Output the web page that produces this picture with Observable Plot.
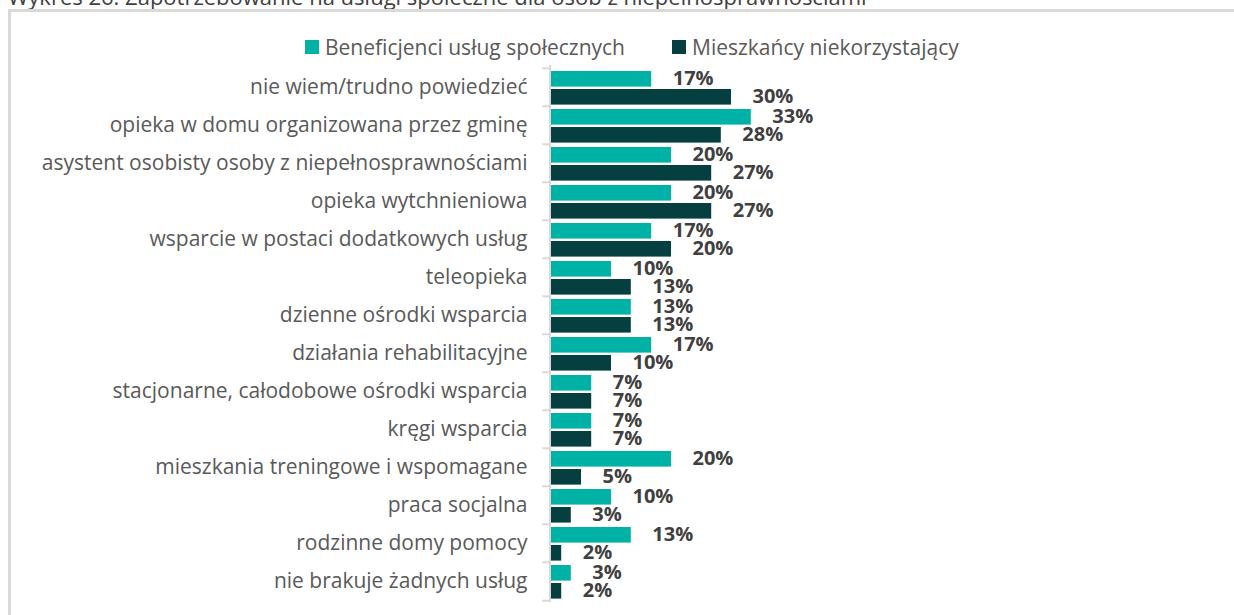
<!DOCTYPE html>
<html><head><meta charset="utf-8">
<script src="https://cdn.jsdelivr.net/npm/d3@7"></script>
<script src="https://cdn.jsdelivr.net/npm/@observablehq/plot@0.6"></script>
<style>
body{margin:0;width:1234px;height:615px;overflow:hidden;background:#fff;font-family:"Open Sans",sans-serif;position:relative}
#title{position:absolute;left:8px;top:-15px;font-size:22px;line-height:22px;color:#404040;white-space:nowrap}
#frame{position:absolute;left:8px;top:9px;width:1400px;height:800px;border-left:3px solid #d9d9d9;border-top:3px solid #d9d9d9}
#legend{position:absolute;top:34px;left:305px;height:26px;font-size:21px;color:#595959;white-space:nowrap}
.item{position:absolute;top:0;display:flex;align-items:center;height:26px}
.sw{width:14px;height:14px;margin-right:6px;display:inline-block}
#chart{position:absolute;left:11px;top:60px}
</style></head>
<body>
<div id="title">Wykres 26. Zapotrzebowanie na usługi społeczne dla osób z niepełnosprawnościami</div>
<div id="frame"></div>
<div id="legend"></div>
<div id="chart"></div>
<script>
const categories = [
  "nie wiem/trudno powiedzieć",
  "opieka w domu organizowana przez gminę",
  "asystent osobisty osoby z niepełnosprawnościami",
  "opieka wytchnieniowa",
  "wsparcie w postaci dodatkowych usług",
  "teleopieka",
  "dzienne ośrodki wsparcia",
  "działania rehabilitacyjne",
  "stacjonarne, całodobowe ośrodki wsparcia",
  "kręgi wsparcia",
  "mieszkania treningowe i wspomagane",
  "praca socjalna",
  "rodzinne domy pomocy",
  "nie brakuje żadnych usług"
];
const seriesNames = ["Beneficjenci usług społecznych", "Mieszkańcy niekorzystający"];
const beneficiaries = [16.7, 33.3, 20, 20, 16.7, 10, 13.3, 16.7, 6.7, 6.7, 20, 10, 13.3, 3.3];
const nonUsers = [30, 28.3, 26.7, 26.7, 20, 13.3, 13.3, 10, 6.7, 6.7, 5, 3.3, 1.7, 1.7];
const colors = ["#00b2a5", "#053f3f"];

const benRows = categories.map((c, i) => ({category: c, series: seriesNames[0], value: beneficiaries[i]}));
const nonRows = categories.map((c, i) => ({category: c, series: seriesNames[1], value: nonUsers[i]}));

// legend
const legend = document.getElementById("legend");
const legendX = [0, 367];
seriesNames.forEach((s, i) => {
  const it = document.createElement("div");
  it.className = "item";
  it.style.left = legendX[i] + "px";
  it.innerHTML = `<span class="sw" style="background:${colors[i]}"></span><span>${s}</span>`;
  legend.appendChild(it);
});

const H = 555, MT = 5, MB = 13;
const half = (H - MT - MB) / categories.length / 2;
const lab = d => Math.round(d.value) + "%";

const chart = Plot.plot({
  width: 1223,
  height: H,
  marginLeft: 540,
  marginRight: 83,
  marginTop: MT,
  marginBottom: MB,
  style: {fontFamily: "'Open Sans', sans-serif", background: "transparent", overflow: "visible"},
  x: {domain: [0, 100], axis: null},
  y: {domain: categories, padding: 0, axis: null},
  marks: [
    Plot.barX(benRows, {x: "value", y: "category", fill: colors[0], insetTop: 3, insetBottom: 19.4}),
    Plot.barX(nonRows, {x: "value", y: "category", fill: colors[1], insetTop: 21, insetBottom: 1.4}),
    Plot.ruleX([0], {stroke: "#d9d9d9", strokeWidth: 2, dx: -1.5}),
    Plot.ruleY(categories, {y: d => d, x1: -1.2, x2: 0, dx: -1.5, dy: -half, stroke: "#d9d9d9", strokeWidth: 2}),
    Plot.ruleY(categories.slice(-1), {y: d => d, x1: -1.2, x2: 0, dx: -1.5, dy: half, stroke: "#d9d9d9", strokeWidth: 2}),
    Plot.axisY({tickSize: 0, tickPadding: 24, fontSize: 21, fill: "#595959", label: null}),
    Plot.text(benRows, {x: "value", y: "category", text: lab, textAnchor: "start", dx: 21, dy: -8.5, fontSize: 20, fontWeight: "bold", fill: "#404040"}),
    Plot.text(nonRows, {x: "value", y: "category", text: lab, textAnchor: "start", dx: 21, dy: 9.5, fontSize: 20, fontWeight: "bold", fill: "#404040"})
  ]
});
document.getElementById("chart").appendChild(chart);
</script>
</body></html>
